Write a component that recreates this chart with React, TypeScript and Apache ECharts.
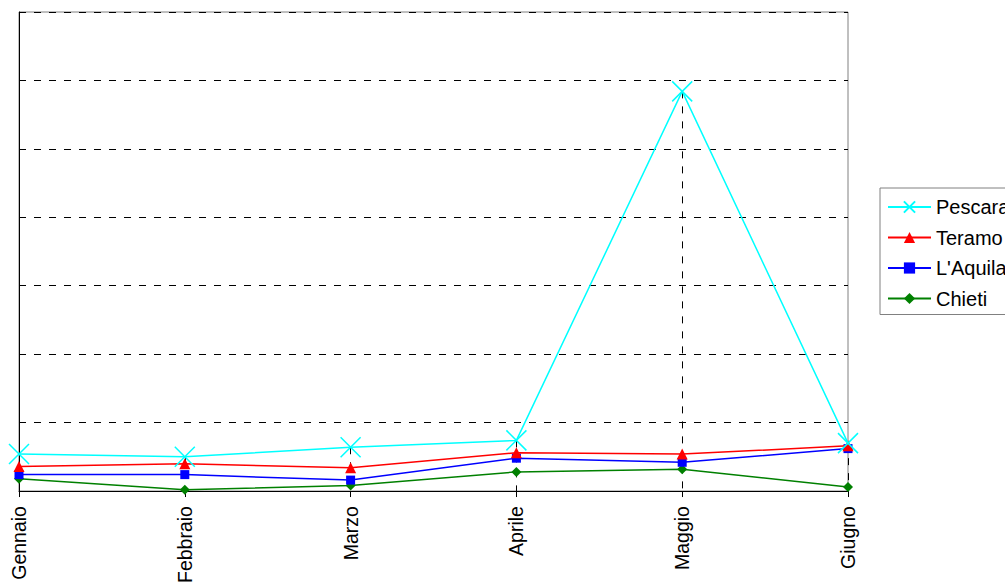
import React, { useEffect, useRef } from "react";
import * as echarts from "echarts";

const categories = ["Gennaio", "Febbraio", "Marzo", "Aprile", "Maggio", "Giugno"];
const pescara = [27, 25, 32, 37, 292, 35];
const teramo = [18, 20, 17, 28, 27, 33];
const aquila = [12, 12, 8, 24, 21, 31];
const chieti = [9, 1, 4, 14, 16, 3];

const FONT = "'Liberation Sans', Arial, sans-serif";
const DASH = [7, 8];

export default function App() {
  const ref = useRef<HTMLDivElement>(null);
  useEffect(() => {
    if (!ref.current) return;
    const chart = echarts.init(ref.current, null, { renderer: "svg" });
    const maxima = categories.map((_, i) =>
      Math.max(pescara[i], teramo[i], aquila[i], chieti[i])
    );
    const dropLines = categories.map((c, i) => [
      { coord: [c, maxima[i]] },
      { coord: [c, 0] },
    ]);
    const lineW = 1.5;
    chart.setOption({
      animation: false,
      backgroundColor: "#ffffff",
      textStyle: { fontFamily: FONT },
      grid: {
        left: 19,
        top: 12,
        right: 157,
        bottom: 94,
        show: true,
        borderColor: "#808080",
        borderWidth: 1,
        backgroundColor: "transparent",
      },
      legend: {
        orient: "vertical",
        left: 880,
        top: 188,
        padding: [9, 20, 6, 7],
        itemWidth: 43,
        itemHeight: 14,
        itemGap: 10.5,
        borderColor: "#808080",
        borderWidth: 1,
        backgroundColor: "#ffffff",
        textStyle: { fontSize: 20, color: "#000", fontFamily: FONT, lineHeight: 20, padding: [0, 0, 0, 0] },
        data: ["Pescara", "Teramo", "L'Aquila", "Chieti"],
      },
      xAxis: {
        type: "category",
        data: categories,
        boundaryGap: false,
        axisLine: { show: true, lineStyle: { color: "#000", width: 1 } },
        axisTick: { show: true, length: 6, lineStyle: { color: "#000" } },
        axisLabel: {
          rotate: 90,
          fontSize: 19.5,
          color: "#000",
          fontFamily: FONT,
          margin: 15,
          interval: 0,
        },
        splitLine: { show: false },
      },
      yAxis: {
        type: "value",
        min: 0,
        max: 350,
        interval: 50,
        axisLine: { show: true, lineStyle: { color: "#000", width: 1 } },
        axisTick: { show: false },
        axisLabel: { show: false },
        splitLine: { show: true, lineStyle: { color: "#000", type: DASH, width: 1 } },
      },
      series: [
        {
          name: "Pescara",
          type: "line",
          data: pescara,
          symbol: "path://M0 0L20 20M20 0L0 20",
          symbolSize: 20,
          lineStyle: { color: "#00FFFF", width: lineW },
          itemStyle: { color: "#00FFFF", borderColor: "#00FFFF", borderWidth: 1.5 },
          z: 5,
          markLine: {
            silent: true,
            symbol: ["none", "none"],
            label: { show: false },
            lineStyle: { color: "#000", type: DASH, width: 1 },
            emphasis: { disabled: true },
            data: dropLines,
            z: 1,
          },
        },
        {
          name: "Teramo",
          type: "line",
          data: teramo,
          symbol: "triangle",
          symbolSize: 11,
          lineStyle: { color: "#FF0000", width: lineW },
          itemStyle: { color: "#FF0000" },
          z: 4,
        },
        {
          name: "L'Aquila",
          type: "line",
          data: aquila,
          symbol: "rect",
          symbolSize: 9,
          lineStyle: { color: "#0000FF", width: lineW },
          itemStyle: { color: "#0000FF" },
          z: 3,
        },
        {
          name: "Chieti",
          type: "line",
          data: chieti,
          symbol: "diamond",
          symbolSize: 10,
          lineStyle: { color: "#008000", width: lineW },
          itemStyle: { color: "#008000" },
          z: 2,
        },
      ],
    });
    return () => chart.dispose();
  }, []);
  return (
    <div
      ref={ref}
      style={{ position: "fixed", left: 0, top: 0, width: 1005, height: 586, background: "#fff" }}
    />
  );
}
